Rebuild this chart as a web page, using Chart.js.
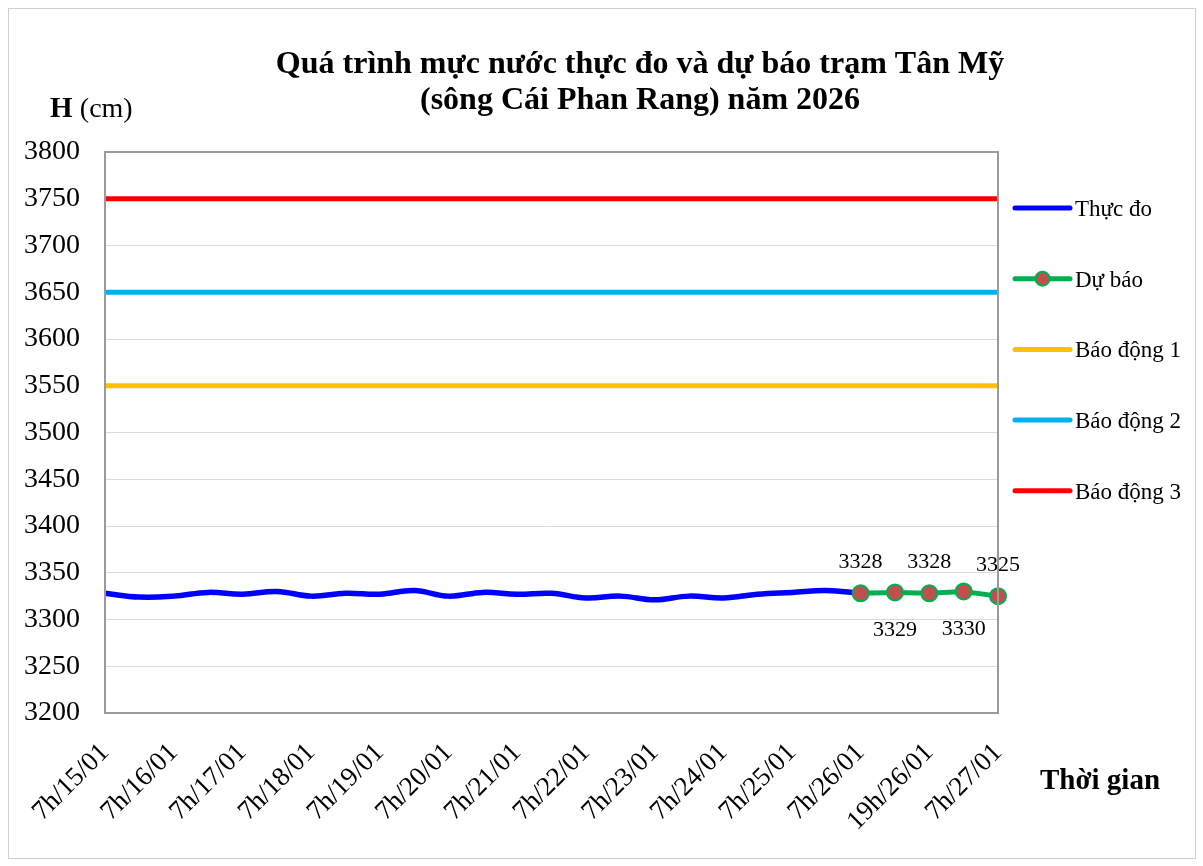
<!DOCTYPE html>
<html>
<head>
<meta charset="utf-8">
<script src="https://cdn.jsdelivr.net/npm/chart.js@4.4.1/dist/chart.umd.min.js"></script>
<style>
  html, body { margin: 0; padding: 0; background: #fff; }
  #wrap { width: 1203px; height: 866px; position: relative; }
</style>
</head>
<body>
<div id="wrap"><canvas id="levelChart" width="1203" height="866"></canvas></div>
<script>
// Time labels (12-hourly observed, then 6-hourly forecast)
const timeLabels = [
  "7h/15/01", "19h/15/01", "7h/16/01", "19h/16/01", "7h/17/01", "19h/17/01",
  "7h/18/01", "19h/18/01", "7h/19/01", "19h/19/01", "7h/20/01", "19h/20/01",
  "7h/21/01", "19h/21/01", "7h/22/01", "19h/22/01", "7h/23/01", "19h/23/01",
  "7h/24/01", "19h/24/01", "7h/25/01", "19h/25/01", "7h/26/01",
  "13h/26/01", "19h/26/01", "1h/27/01", "7h/27/01"
];

// Observed water level (cm)
const observed = [
  3328, 3324, 3325, 3329, 3327, 3330, 3325, 3328, 3327, 3331, 3325, 3329,
  3327, 3328, 3323, 3325, 3321, 3325, 3323, 3327, 3329, 3331, 3328
];

// Forecast water level (cm), starting at 7h/26/01
const forecast = [3328, 3329, 3328, 3330, 3325];
const forecastStart = 22;

// Alarm levels
const alarm1 = 3550;
const alarm2 = 3650;
const alarm3 = 3750;

const yTicks = [3200, 3250, 3300, 3350, 3400, 3450, 3500, 3550, 3600, 3650, 3700, 3750, 3800];

const serif = "'Liberation Serif', 'Times New Roman', serif";
Chart.defaults.font.family = serif;
Chart.defaults.color = "#000";

const observedData = timeLabels.map((l, i) => (i < observed.length ? observed[i] : null));
const forecastData = timeLabels.map((l, i) =>
  i >= forecastStart && i < forecastStart + forecast.length ? forecast[i - forecastStart] : null
);
const flat = (v) => timeLabels.map(() => v);

// Title, axis captions, legend, value labels, frames
const decorPlugin = {
  id: "decor",
  afterDraw(chart) {
    const ctx = chart.ctx;
    const area = chart.chartArea;
    ctx.save();

    // outer frame
    ctx.strokeStyle = "#d0d0d0";
    ctx.lineWidth = 1;
    ctx.strokeRect(8.5, 8.5, 1187, 850);

    // plot border
    ctx.strokeStyle = "#9a9a9a";
    ctx.lineWidth = 2;
    ctx.strokeRect(area.left, area.top, area.right - area.left, area.bottom - area.top);

    // title
    ctx.fillStyle = "#000";
    ctx.textAlign = "center";
    ctx.textBaseline = "middle";
    ctx.font = "bold 32px " + serif;
    ctx.fillText("Quá trình mực nước thực đo và dự báo trạm Tân Mỹ", 640, 65);
    ctx.fillText("(sông Cái Phan Rang) năm 2026", 640, 101);

    // y caption
    ctx.textAlign = "left";
    ctx.font = "bold 29px " + serif;
    ctx.fillText("H", 50, 110);
    const hw = ctx.measureText("H ").width;
    ctx.font = "28px " + serif;
    ctx.fillText("(cm)", 50 + hw, 110);

    // x caption
    ctx.font = "bold 29px " + serif;
    ctx.fillText("Thời gian", 1040, 782);

    // forecast value labels, alternating above / below
    const meta = chart.getDatasetMeta(1);
    ctx.font = "22px " + serif;
    ctx.textAlign = "center";
    forecast.forEach((v, k) => {
      const pt = meta.data[forecastStart + k];
      const dy = k % 2 === 0 ? -31 : 38;
      ctx.fillText(String(v), pt.x, pt.y + dy);
    });

    // legend
    const items = chart.data.datasets;
    const lx = 1015, tx = 1075;
    ctx.textAlign = "left";
    ctx.font = "23px " + serif;
    items.forEach((ds, i) => {
      const y = 208 + i * 70.7;
      ctx.strokeStyle = ds.borderColor;
      ctx.lineWidth = 5;
      ctx.lineCap = "round";
      ctx.beginPath();
      ctx.moveTo(lx, y);
      ctx.lineTo(lx + 55, y);
      ctx.stroke();
      if (ds.pointRadius > 0) {
        ctx.beginPath();
        ctx.arc(lx + 27.5, y, 7, 0, Math.PI * 2);
        ctx.fillStyle = ds.pointBackgroundColor;
        ctx.fill();
        ctx.lineWidth = 2;
        ctx.strokeStyle = ds.pointBorderColor;
        ctx.stroke();
      }
      ctx.fillStyle = "#000";
      ctx.fillText(ds.label, tx, y + 2);
    });

    ctx.restore();
  },
};

const ctx = document.getElementById("levelChart").getContext("2d");
const levelChart = new Chart(ctx, {
  type: "line",
  data: {
    labels: timeLabels,
    datasets: [
      {
        label: "Thực đo",
        data: observedData,
        borderColor: "#0000FF",
        borderWidth: 5.5,
        pointRadius: 0,
        tension: 0.4,
        order: 1,
      },
      {
        label: "Dự báo",
        data: forecastData,
        borderColor: "#00B050",
        borderWidth: 5,
        pointRadius: 8,
        pointBackgroundColor: "#C0504D",
        pointBorderColor: "#00B050",
        pointBorderWidth: 2,
        tension: 0,
        order: 0,
      },
      { label: "Báo động 1", data: flat(alarm1), borderColor: "#FFC000", borderWidth: 5, pointRadius: 0, order: 2 },
      { label: "Báo động 2", data: flat(alarm2), borderColor: "#00B0F0", borderWidth: 5, pointRadius: 0, order: 2 },
      { label: "Báo động 3", data: flat(alarm3), borderColor: "#FF0000", borderWidth: 5, pointRadius: 0, order: 2 },
    ],
  },
  options: {
    responsive: false,
    animation: false,
    maintainAspectRatio: false,
    layout: { padding: { top: 152, right: 205, bottom: 0, left: 0 } },
    plugins: {
      legend: { display: false },
      title: { display: false },
      tooltip: { enabled: false },
    },
    scales: {
      x: {
        type: "category",
        offset: false,
        grid: { display: false, drawTicks: false },
        border: { display: false },
        ticks: {
          autoSkip: false,
          maxRotation: 45,
          minRotation: 45,
          padding: 24,
          font: { size: 27 },
          callback: function (value, index) {
            return index % 2 === 0 ? timeLabels[index] : "";
          },
        },
        afterFit(scale) {
          scale.height = 153;
        },
      },
      y: {
        min: 3200,
        max: 3800,
        grid: { color: "#d9d9d9", lineWidth: 1, drawTicks: false },
        border: { display: false },
        afterBuildTicks(scale) {
          scale.ticks = yTicks.map((v) => ({ value: v }));
        },
        ticks: {
          padding: 25,
          font: { size: 28 },
          callback: (v) => String(v),
        },
        afterFit(scale) {
          scale.width = 105;
        },
      },
    },
  },
  plugins: [decorPlugin],
});
</script>
</body>
</html>
